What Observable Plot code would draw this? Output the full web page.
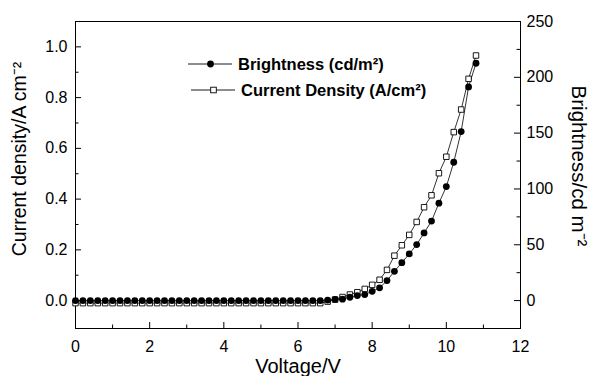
<!DOCTYPE html>
<html><head><meta charset="utf-8">
<script src="https://cdn.jsdelivr.net/npm/d3@7"></script>
<script src="https://cdn.jsdelivr.net/npm/@observablehq/plot@0.6"></script>
<style>
html,body{margin:0;padding:0;background:#fff;}
#chart{position:relative;width:592px;height:376px;}
</style></head><body><div id="chart"></div>
<script>
// ---- data ----
const voltage = [0,0.2,0.4,0.6,0.8,1.0,1.2,1.4,1.6,1.8,2.0,2.2,2.4,2.6,2.8,3.0,3.2,3.4,3.6,3.8,4.0,4.2,4.4,4.6,4.8,5.0,5.2,5.4,5.6,5.8,6.0,6.2,6.4,6.6,6.8,7.0,7.2,7.4,7.6,7.8,8.0,8.2,8.4,8.6,8.8,9.0,9.2,9.4,9.6,9.8,10.0,10.2,10.4,10.6,10.8];
const currentDensity = [-0.01,-0.01,-0.01,-0.01,-0.01,-0.01,-0.01,-0.01,-0.01,-0.01,-0.01,-0.01,-0.01,-0.01,-0.01,-0.01,-0.01,-0.01,-0.01,-0.01,-0.01,-0.01,-0.01,-0.01,-0.01,-0.01,-0.01,-0.01,-0.01,-0.01,-0.01,-0.01,-0.01,-0.01,-0.004,0.004,0.014,0.024,0.033,0.046,0.062,0.082,0.121,0.177,0.218,0.259,0.310,0.368,0.415,0.502,0.567,0.664,0.753,0.874,0.966];
const brightness = [0,0,0,0,0,0,0,0,0,0,0,0,0,0,0,0,0,0,0,0,0,0,0,0,0,0,0,0,0,0,0,0,0,0,0.5,1,1.3,3,4.5,5.4,8.3,11.4,17.9,26.2,34,41.8,50.2,60.6,71.2,87.3,102.1,123.9,151.4,191.4,212.6];
const leftTicks = [0,0.2,0.4,0.6,0.8,1.0];
const leftMinor = [0.1,0.3,0.5,0.7,0.9];
const rightTicks = [0,50,100,150,200,250];
const rightMinor = [25,75,125,175,225];
const xTicks = [0,2,4,6,8,10,12];
const xMinor = [1,3,5,7,9,11];
const seriesNames = ["Brightness (cd/m²)", "Current Density (A/cm²)"];
const xTitle = "Voltage/V";
const leftTitle = "Current density/A cm⁻²";
const rightTitle = "Brightness/cd m⁻²";
const xDomain = [0, 12];
const jDomain = [-0.11, 1.1];
const bDomain = [-25, 250];

// ---- layout ----
const W = 592, H = 376, mL = 75, mR = 72, mT = 21, mB = 48;
const pw = W - mL - mR, ph = H - mT - mB;
const k = jDomain[1] / bDomain[1]; // brightness -> left-axis units
const rows = voltage.map((v, i) => ({v, j: currentDensity[i], b: brightness[i] * k}));
const font = "'Liberation Sans', Arial, Helvetica, sans-serif";

const plot = Plot.plot({
  width: W, height: H,
  marginLeft: mL, marginRight: mR, marginTop: mT, marginBottom: mB,
  style: {fontFamily: font, color: "black", background: "white", overflow: "visible"},
  x: {domain: xDomain, axis: null},
  y: {domain: jDomain, axis: null},
  marks: [
    Plot.frame({stroke: "black", strokeWidth: 1}),
    // inward ticks
    Plot.tickY(leftTicks, {y: d => d, insetRight: pw - 6, stroke: "black"}),
    Plot.tickY(leftMinor, {y: d => d, insetRight: pw - 3.5, stroke: "black"}),
    Plot.tickY(rightTicks.map(b => b * k), {y: d => d, insetLeft: pw - 6, stroke: "black"}),
    Plot.tickY(rightMinor.map(b => b * k), {y: d => d, insetLeft: pw - 3.5, stroke: "black"}),
    Plot.tickX(xTicks, {x: d => d, insetTop: ph - 6, stroke: "black"}),
    Plot.tickX(xMinor, {x: d => d, insetTop: ph - 3.5, stroke: "black"}),
    // tick labels
    Plot.axisY(leftTicks, {anchor: "left", label: null, tickSize: 0, tickPadding: 8, fontSize: 16, tickFormat: d3.format(".1f")}),
    Plot.axisY(rightTicks.map(b => b * k), {anchor: "right", label: null, tickSize: 0, tickPadding: 6, fontSize: 16, tickFormat: d => String(Math.round(d / k))}),
    Plot.axisX(xTicks, {anchor: "bottom", label: null, tickSize: 0, tickPadding: 12, fontSize: 16}),
    // titles
    Plot.text([xTitle], {frameAnchor: "bottom", textAnchor: "middle", dy: 38, fontSize: 20, lineAnchor: "middle"}),
    Plot.text([leftTitle], {frameAnchor: "left", textAnchor: "middle", rotate: -90, dx: -56, dy: -16, fontSize: 19.5, lineAnchor: "middle"}),
    Plot.text([rightTitle], {frameAnchor: "right", textAnchor: "middle", rotate: 90, dx: 58, dy: -9, fontSize: 20.5, lineAnchor: "middle"}),
    // series
    Plot.line(rows, {x: "v", y: "j", stroke: "black", strokeWidth: 0.8}),
    Plot.line(rows, {x: "v", y: "b", stroke: "black", strokeWidth: 0.8}),
    Plot.dot(rows, {x: "v", y: "j", symbol: "square", r: 3.1, fill: "white", stroke: "black", strokeWidth: 0.9}),
    Plot.dot(rows, {x: "v", y: "b", r: 3.4, fill: "black", stroke: "none"})
  ]
});

// ---- legend (inside the frame) ----
const svg = d3.select(plot);
const lg = svg.append("g").attr("font-family", font).attr("font-weight", "bold").attr("font-size", 16.5).attr("fill", "black").attr("text-anchor", "start");
const items = [
  {name: seriesNames[0], x0: 188, y: 64, sym: "circle"},
  {name: seriesNames[1], x0: 191, y: 90, sym: "square"}
];
items.forEach(it => {
  lg.append("line").attr("x1", it.x0).attr("x2", it.x0 + 44).attr("y1", it.y).attr("y2", it.y).attr("stroke", "black").attr("stroke-width", 0.9);
  if (it.sym === "circle") {
    lg.append("circle").attr("cx", it.x0 + 22.5).attr("cy", it.y).attr("r", 3.4).attr("fill", "black");
  } else {
    lg.append("rect").attr("x", it.x0 + 22.5 - 2.8).attr("y", it.y - 2.8).attr("width", 5.6).attr("height", 5.6).attr("fill", "white").attr("stroke", "black").attr("stroke-width", 0.9);
  }
  lg.append("text").attr("x", it.x0 + 50).attr("y", it.y).attr("dy", "0.35em").attr("text-anchor", "start").text(it.name);
});

document.getElementById("chart").appendChild(plot);
</script>
</body></html>
